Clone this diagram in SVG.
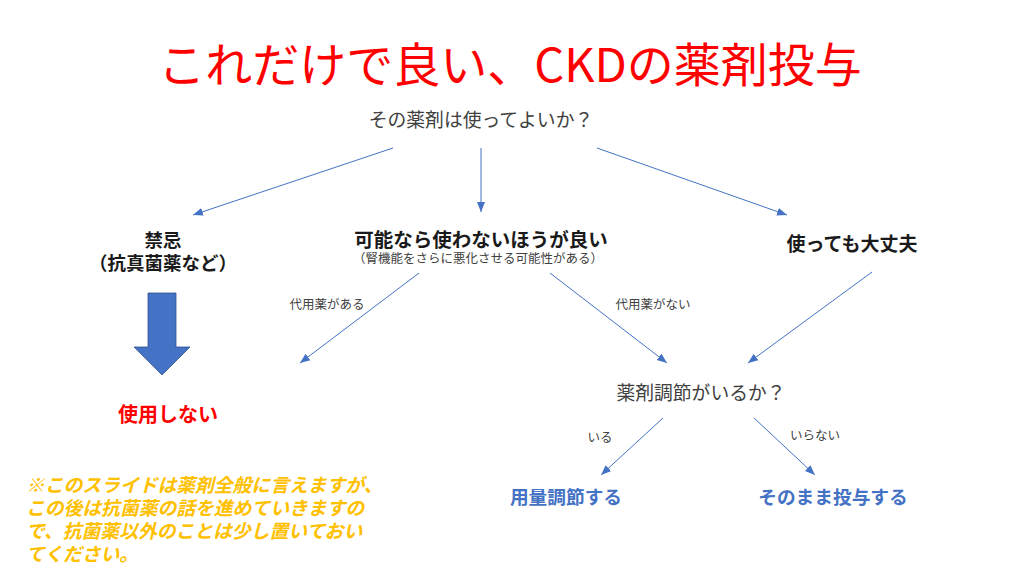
<svg xmlns="http://www.w3.org/2000/svg" width="1024" height="576" viewBox="0 0 1024 576">
<style>
text{font-family:"Noto Sans CJK JP","Noto Sans",sans-serif;}
.title{font-size:47px;fill:#FF0000;}
.q{font-size:18.8px;fill:#404040;}
.b{font-size:19px;font-weight:bold;fill:#1a1a1a;}
.sub{font-size:12.5px;fill:#404040;}
.lbl{font-size:12.5px;fill:#404040;}
.red{font-size:20px;font-weight:bold;fill:#FF0000;}
.blue{font-size:18.7px;font-weight:bold;fill:#4472C4;}
.note{font-size:18.8px;font-weight:bold;font-style:italic;fill:#FFC000;}
.conn{stroke:#4472C4;stroke-width:1;fill:none;marker-end:url(#ah);}
</style>
<defs>
<marker id="ah" markerUnits="userSpaceOnUse" markerWidth="10" markerHeight="10" viewBox="0 0 10 10" refX="10" refY="5" orient="auto">
<path d="M0,1 L10,5 L0,9 Z" fill="#4472C4"/>
</marker>
</defs>
<rect width="1024" height="576" fill="#FFFFFF"/>
<text id="title" class="title" x="510" y="82" text-anchor="middle">これだけで良い、CKDの薬剤投与</text>
<g id="connectors">
<line class="conn" x1="393" y1="148" x2="193" y2="215"/>
<line class="conn" x1="481" y1="148" x2="481" y2="212"/>
<line class="conn" x1="597" y1="148" x2="787" y2="215"/>
<line class="conn" x1="419" y1="273" x2="300" y2="363"/>
<line class="conn" x1="550" y1="273" x2="667" y2="363"/>
<line class="conn" x1="872" y1="272" x2="748" y2="363"/>
<line class="conn" x1="663" y1="418" x2="601" y2="475"/>
<line class="conn" x1="754" y1="418" x2="815" y2="475"/>
<text class="lbl" x="327" y="309" text-anchor="middle">代用薬がある</text>
<text class="lbl" x="653" y="309" text-anchor="middle">代用薬がない</text>
<text class="lbl" x="600" y="442" text-anchor="middle">いる</text>
<text class="lbl" x="815" y="440" text-anchor="middle">いらない</text>
</g>
<g id="q1"><text class="q" x="481" y="127" text-anchor="middle">その薬剤は使ってよいか？</text></g>
<g id="kinki">
<text class="b" x="163" y="247" text-anchor="middle" style="font-size:18.5px">禁忌</text>
<text class="b" x="163" y="270" text-anchor="middle" style="font-size:18.5px">（抗真菌薬など）</text>
</g>
<g id="avoid">
<text class="b" x="481" y="247" text-anchor="middle" style="font-size:19.5px">可能なら使わないほうが良い</text>
<text class="sub" x="478" y="263" text-anchor="middle">（腎機能をさらに悪化させる可能性がある）</text>
</g>
<g id="ok"><text class="b" x="852" y="251" text-anchor="middle">使っても大丈夫</text></g>
<g id="bigarrow"><path d="M148,293 H176 V347 H190 L162,375 L134,347 H148 Z" fill="#4472C4" stroke="#2F528F" stroke-width="0.8"/></g>
<g id="nouse"><text class="red" x="168" y="422" text-anchor="middle">使用しない</text></g>
<g id="q2"><text class="q" x="701" y="400" text-anchor="middle">薬剤調節がいるか？</text></g>
<g id="adjust"><text class="blue" x="566" y="504" text-anchor="middle">用量調節する</text></g>
<g id="asis"><text class="blue" x="833" y="504" text-anchor="middle">そのまま投与する</text></g>
<g id="note">
<text class="note" x="26" y="492">※このスライドは薬剤全般に言えますが、</text>
<text class="note" x="26" y="515">この後は抗菌薬の話を進めていきますの</text>
<text class="note" x="26" y="538">で、抗菌薬以外のことは少し置いておい</text>
<text class="note" x="26" y="561">てください。</text>
</g>
</svg>
